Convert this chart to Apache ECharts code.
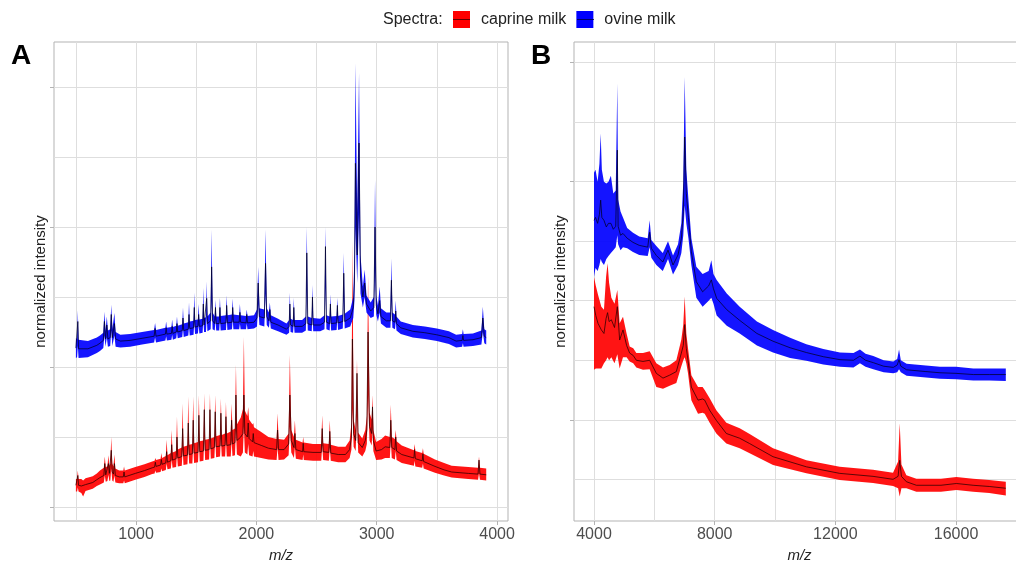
<!DOCTYPE html>
<html>
<head>
<meta charset="utf-8">
<script src="https://cdn.jsdelivr.net/npm/echarts@6/dist/echarts.min.js"></script>
<style>
html,body{margin:0;padding:0;background:#fff;}
#chart{width:1016px;height:561px;}
</style>
</head>
<body>
<div id="chart"></div>
<script>
// ---- Data: rows are [m/z, mean, lower, upper] (normalized intensity, offset per spectrum) ----
const seriesNames = ['caprine milk', 'ovine milk'];

// Panel A tick values
const gridXA = [500, 1000, 1500, 2000, 2500, 3000, 3500, 4000];
const labelXA = [1000, 2000, 3000, 4000];
const gridYA = [0, 1, 2, 3, 4, 5, 6];
const tickYA = [0, 2, 4, 6];
// Panel B tick values
const gridXB = [4000, 6000, 8000, 10000, 12000, 14000, 16000, 18000];
const labelXB = [4000, 8000, 12000, 16000];
const gridYB = [0, 1, 2, 3, 4, 5, 6, 7];
const tickYB = [1, 3, 5, 7];

const ovineA = [
[500,2.27,2.13,2.41],[510,2.27,2.14,2.40],[516,2.65,2.30,2.81],[522,2.26,2.13,2.39],
[600,2.26,2.14,2.37],[674,2.31,2.20,2.42],[700,2.34,2.23,2.45],[728,2.38,2.27,2.49],
[737,2.65,2.45,2.79],[746,2.40,2.29,2.51],[757,2.60,2.42,2.72],[766,2.40,2.29,2.52],
[785,2.42,2.30,2.54],[794,2.75,2.52,2.89],[803,2.42,2.30,2.54],[820,2.62,2.45,2.77],
[830,2.40,2.29,2.50],[870,2.37,2.28,2.46],[950,2.38,2.29,2.47],[1050,2.41,2.32,2.50],
[1150,2.44,2.35,2.53],[1158,2.55,2.42,2.63],[1166,2.44,2.35,2.53],[1244,2.47,2.38,2.56],
[1250,2.56,2.44,2.65],[1256,2.47,2.38,2.56],[1294,2.48,2.39,2.57],[1300,2.58,2.46,2.68],
[1306,2.48,2.39,2.57],[1334,2.50,2.41,2.59],[1340,2.62,2.50,2.72],[1346,2.50,2.41,2.59],
[1384,2.52,2.43,2.61],[1390,2.70,2.55,2.85],[1396,2.52,2.43,2.62],[1434,2.54,2.45,2.64],
[1440,2.75,2.58,2.92],[1446,2.55,2.45,2.65],[1478,2.56,2.46,2.66],[1484,2.85,2.65,3.06],
[1490,2.57,2.47,2.67],[1514,2.58,2.48,2.68],[1520,2.75,2.60,2.90],[1526,2.58,2.48,2.68],
[1553,2.59,2.49,2.69],[1559,2.90,2.68,3.13],[1565,2.60,2.50,2.70],[1581,2.60,2.50,2.71],
[1587,2.98,2.72,3.22],[1593,2.62,2.51,2.72],[1620,2.66,2.54,2.78],[1628,3.43,2.95,3.96],
[1636,2.66,2.54,2.78],[1654,2.62,2.52,2.72],[1660,2.85,2.68,2.96],[1666,2.62,2.52,2.72],
[1691,2.62,2.52,2.72],[1697,2.85,2.68,2.99],[1703,2.62,2.52,2.73],[1747,2.63,2.53,2.74],
[1753,2.88,2.70,3.02],[1759,2.63,2.53,2.74],[1797,2.64,2.54,2.75],[1803,2.85,2.68,2.98],
[1809,2.64,2.54,2.75],[1857,2.64,2.54,2.74],[1863,2.78,2.62,2.90],[1869,2.64,2.54,2.74],
[1914,2.63,2.54,2.73],[1920,2.75,2.62,2.82],[1926,2.63,2.54,2.73],[1980,2.64,2.55,2.74],
[2005,2.70,2.58,2.82],[2015,3.20,2.90,3.43],[2025,2.72,2.60,2.84],[2066,2.70,2.58,2.82],
[2076,3.48,3.05,3.96],[2086,2.72,2.60,2.84],[2104,2.66,2.56,2.78],[2112,2.82,2.68,2.92],
[2120,2.64,2.55,2.74],[2180,2.60,2.51,2.69],[2250,2.54,2.46,2.62],[2272,2.58,2.49,2.67],
[2278,2.90,2.70,3.06],[2284,2.60,2.50,2.69],[2305,2.58,2.49,2.67],[2311,2.85,2.66,2.99],
[2317,2.58,2.49,2.67],[2380,2.58,2.49,2.67],[2411,2.62,2.52,2.72],[2419,3.63,3.10,4.00],
[2427,2.62,2.52,2.72],[2460,2.60,2.51,2.70],[2466,3.00,2.78,3.17],[2472,2.60,2.51,2.70],
[2530,2.60,2.51,2.69],[2566,2.64,2.54,2.74],[2574,3.72,3.15,4.00],[2582,2.64,2.54,2.74],
[2609,2.62,2.52,2.72],[2615,2.90,2.72,3.04],[2621,2.62,2.52,2.72],[2667,2.63,2.53,2.73],
[2673,2.88,2.70,2.99],[2679,2.63,2.53,2.73],[2718,2.65,2.55,2.75],[2726,3.34,3.00,3.63],
[2734,2.65,2.55,2.76],[2780,2.70,2.58,2.82],[2805,2.85,2.70,3.00],[2815,3.20,2.95,3.60],
[2823,4.91,4.00,6.34],[2838,3.60,3.20,4.20],[2853,5.20,4.20,6.20],[2865,3.30,3.05,3.60],
[2885,3.00,2.85,3.15],[2900,3.20,3.00,3.39],[2915,2.90,2.78,3.02],[2950,2.80,2.70,2.92],
[2976,2.85,2.72,3.00],[2986,4.00,3.40,4.67],[2996,2.88,2.75,3.02],[3010,2.76,2.65,2.88],
[3025,2.95,2.78,3.15],[3035,2.72,2.62,2.84],[3080,2.66,2.56,2.78],[3114,2.66,2.56,2.78],
[3122,3.24,2.95,3.55],[3130,2.66,2.56,2.78],[3152,2.64,2.54,2.75],[3158,2.80,2.66,2.95],
[3164,2.62,2.52,2.72],[3200,2.56,2.47,2.65],[3300,2.51,2.42,2.60],[3400,2.49,2.40,2.58],
[3500,2.46,2.37,2.55],[3600,2.42,2.33,2.51],[3660,2.37,2.28,2.46],[3710,2.38,2.29,2.47],
[3716,2.45,2.34,2.54],[3722,2.38,2.29,2.47],[3800,2.39,2.30,2.48],[3870,2.42,2.32,2.52],
[3882,2.70,2.50,2.86],[3894,2.44,2.34,2.54],[3910,2.42,2.32,2.52]
];

const caprineA = [
[500,0.31,0.22,0.40],[510,0.31,0.22,0.40],[516,0.45,0.28,0.52],[522,0.31,0.22,0.40],
[545,0.30,0.20,0.40],[560,0.30,0.15,0.38],[580,0.32,0.23,0.41],[640,0.35,0.26,0.44],
[674,0.39,0.30,0.48],[700,0.42,0.32,0.52],[732,0.45,0.35,0.56],[740,0.62,0.45,0.72],
[748,0.46,0.36,0.57],[762,0.47,0.37,0.58],[770,0.62,0.46,0.74],[778,0.48,0.37,0.59],
[786,0.50,0.38,0.62],[794,0.81,0.55,1.00],[802,0.50,0.38,0.62],[812,0.47,0.36,0.58],
[820,0.62,0.45,0.75],[828,0.45,0.35,0.55],[860,0.43,0.34,0.52],[894,0.43,0.34,0.52],
[900,0.50,0.38,0.58],[906,0.43,0.34,0.52],[994,0.48,0.39,0.57],[1070,0.52,0.43,0.61],
[1134,0.56,0.47,0.65],[1154,0.57,0.48,0.66],[1160,0.64,0.52,0.70],[1166,0.58,0.49,0.67],
[1204,0.60,0.50,0.69],[1210,0.68,0.55,0.77],[1216,0.61,0.51,0.70],[1247,0.63,0.53,0.73],
[1254,0.79,0.62,0.96],[1261,0.64,0.54,0.74],[1289,0.66,0.55,0.77],[1296,0.89,0.68,1.10],
[1303,0.67,0.56,0.78],[1333,0.69,0.57,0.80],[1340,1.00,0.75,1.29],[1347,0.70,0.58,0.82],
[1380,0.72,0.59,0.85],[1387,1.12,0.82,1.48],[1394,0.73,0.60,0.86],[1427,0.74,0.61,0.88],
[1434,1.20,0.88,1.58],[1441,0.75,0.62,0.89],[1468,0.76,0.62,0.90],[1475,1.24,0.90,1.58],
[1482,0.77,0.63,0.91],[1515,0.78,0.64,0.93],[1522,1.31,0.95,1.60],[1529,0.79,0.65,0.94],
[1560,0.80,0.66,0.95],[1567,1.39,1.00,1.62],[1574,0.81,0.67,0.96],[1607,0.82,0.68,0.97],
[1614,1.39,1.00,1.62],[1621,0.83,0.69,0.98],[1651,0.85,0.70,1.00],[1658,1.36,1.00,1.60],
[1665,0.86,0.71,1.01],[1698,0.87,0.72,1.03],[1705,1.34,0.98,1.55],[1712,0.87,0.72,1.03],
[1740,0.88,0.72,1.05],[1747,1.29,0.96,1.50],[1754,0.88,0.72,1.05],[1787,0.89,0.72,1.08],
[1794,1.24,0.95,1.48],[1801,0.90,0.73,1.10],[1822,0.92,0.74,1.12],[1830,1.60,1.10,2.03],
[1838,0.95,0.75,1.18],[1870,1.00,0.72,1.28],[1888,1.05,0.78,1.40],[1896,1.60,1.15,2.43],
[1904,1.05,0.78,1.38],[1925,1.00,0.75,1.30],[1932,1.20,0.90,1.43],[1939,0.98,0.74,1.25],
[1968,0.93,0.72,1.18],[1974,1.05,0.80,1.20],[1980,0.92,0.72,1.14],[2040,0.88,0.70,1.07],
[2100,0.84,0.68,1.00],[2168,0.82,0.67,0.97],[2176,1.10,0.85,1.34],[2184,0.82,0.67,0.97],
[2230,0.82,0.68,0.96],[2268,0.90,0.74,1.05],[2278,1.60,1.15,2.17],[2290,0.95,0.78,1.10],
[2312,0.85,0.70,1.00],[2320,1.05,0.85,1.24],[2328,0.82,0.69,0.96],[2384,0.79,0.67,0.92],
[2389,0.91,0.75,1.00],[2394,0.79,0.67,0.92],[2470,0.78,0.66,0.90],[2539,0.78,0.66,0.90],
[2547,1.12,0.88,1.31],[2555,0.79,0.67,0.91],[2602,0.78,0.66,0.90],[2610,1.08,0.85,1.24],
[2618,0.77,0.66,0.89],[2680,0.75,0.64,0.86],[2740,0.75,0.64,0.86],[2775,0.82,0.70,0.95],
[2790,1.00,0.82,1.20],[2798,2.40,1.40,3.80],[2808,1.05,0.86,1.25],[2825,0.95,0.80,1.10],
[2836,1.91,1.30,2.10],[2846,0.92,0.78,1.06],[2880,0.85,0.72,0.98],[2905,0.95,0.80,1.10],
[2918,1.10,0.90,1.30],[2928,2.50,1.60,3.30],[2940,1.15,0.95,1.35],[2958,1.05,0.88,1.25],
[2965,1.43,1.10,1.60],[2972,0.95,0.80,1.10],[2995,0.80,0.67,0.93],[3040,0.82,0.68,0.97],
[3070,0.86,0.70,1.02],[3109,0.85,0.70,1.00],[3117,1.24,0.95,1.46],[3125,0.85,0.70,1.00],
[3151,0.82,0.68,0.97],[3158,1.00,0.80,1.10],[3165,0.80,0.67,0.94],[3208,0.75,0.63,0.88],
[3309,0.70,0.59,0.81],[3315,0.82,0.66,0.90],[3321,0.69,0.58,0.80],[3378,0.66,0.56,0.77],
[3384,0.76,0.62,0.84],[3390,0.65,0.55,0.76],[3484,0.58,0.49,0.68],[3560,0.53,0.45,0.63],
[3623,0.50,0.42,0.59],[3761,0.48,0.40,0.57],[3842,0.47,0.39,0.56],[3850,0.67,0.48,0.72],
[3858,0.47,0.39,0.56],[3910,0.46,0.38,0.55]
];

const ovineB = [
[4000,4.35,3.40,5.15],[4050,4.40,3.55,5.20],[4120,4.30,3.50,5.00],[4180,4.45,3.60,5.30],
[4221,4.69,3.70,5.81],[4260,4.40,3.65,5.20],[4330,4.35,3.60,5.00],[4409,4.24,3.70,4.97],
[4480,4.30,3.75,5.00],[4560,4.30,3.80,5.10],[4640,4.20,3.85,4.80],[4720,4.25,3.90,4.85],
[4773,5.53,4.10,6.65],[4800,4.25,3.95,4.70],[4880,4.10,3.85,4.50],[4961,4.13,3.90,4.40],
[5100,4.05,3.88,4.22],[5293,3.98,3.82,4.14],[5500,3.93,3.77,4.08],[5780,3.90,3.75,4.05],
[5845,4.15,3.90,4.35],[5900,3.88,3.72,4.02],[6066,3.76,3.60,3.92],[6280,3.65,3.50,3.80],
[6453,3.85,3.70,4.00],[6619,3.60,3.44,3.76],[6785,3.77,3.60,3.95],[6895,4.04,3.80,4.30],
[6960,4.50,4.10,5.00],[7006,5.75,4.60,6.76],[7060,4.80,4.30,5.20],[7130,4.40,4.05,4.70],
[7227,3.82,3.60,4.05],[7392,3.32,3.05,3.57],[7600,3.15,2.90,3.45],[7800,3.25,3.00,3.50],
[7889,3.35,3.05,3.68],[7960,3.20,2.95,3.45],[8066,3.04,2.75,3.35],[8400,2.85,2.58,3.12],
[8829,2.67,2.45,2.90],[9400,2.45,2.25,2.65],[9934,2.32,2.13,2.51],[10500,2.21,2.04,2.38],
[11039,2.13,1.99,2.27],[11600,2.06,1.93,2.19],[12153,2.01,1.89,2.13],[12600,2.00,1.88,2.12],
[12815,2.07,1.95,2.18],[13000,2.00,1.89,2.11],[13258,1.96,1.85,2.07],[13600,1.90,1.80,2.00],
[13920,1.88,1.78,1.98],[14050,1.92,1.80,2.02],[14111,2.01,1.85,2.18],[14170,1.90,1.80,2.00],
[14362,1.84,1.74,1.94],[15000,1.81,1.71,1.91],[15467,1.79,1.69,1.89],[16000,1.78,1.68,1.89],
[16572,1.76,1.66,1.86],[17100,1.76,1.66,1.86],[17650,1.76,1.65,1.86]
];

const caprineB = [
[4000,2.90,1.84,3.40],[4060,2.75,1.86,3.25],[4133,2.62,1.86,3.10],[4243,2.51,1.86,2.90],
[4330,2.45,1.95,2.85],[4400,2.70,2.00,3.40],[4450,2.80,2.05,3.63],[4500,2.65,2.00,3.30],
[4575,2.68,2.05,3.05],[4680,2.55,1.95,2.95],[4773,2.90,2.10,3.18],[4850,2.34,1.86,2.62],
[4961,2.51,2.05,2.73],[5080,2.25,2.05,2.45],[5182,2.12,1.98,2.23],[5300,2.08,1.95,2.20],
[5403,2.00,1.88,2.12],[5624,1.98,1.84,2.12],[5845,2.00,1.85,2.15],[6066,1.78,1.55,1.95],
[6287,1.70,1.52,1.88],[6508,1.75,1.57,1.92],[6729,1.81,1.62,2.00],[6895,2.12,1.90,2.35],
[6960,2.25,2.00,2.60],[7006,2.60,2.05,3.07],[7060,2.20,1.95,2.45],[7116,2.00,1.78,2.20],
[7227,1.55,1.33,1.75],[7448,1.33,1.10,1.55],[7600,1.35,1.12,1.55],[7669,1.33,1.10,1.50],
[7834,1.16,0.95,1.36],[8055,0.99,0.77,1.16],[8387,0.77,0.60,0.95],[8829,0.69,0.52,0.86],
[9160,0.60,0.44,0.76],[9934,0.38,0.24,0.52],[11039,0.21,0.10,0.32],[12144,0.10,-0.01,0.21],
[13249,0.05,-0.06,0.16],[13912,0.00,-0.11,0.11],[14080,0.05,-0.15,0.30],[14133,0.32,-0.29,0.94],
[14190,0.05,-0.15,0.25],[14354,-0.04,-0.15,0.07],[14686,-0.10,-0.21,0.01],[15500,-0.10,-0.21,0.01],
[16012,-0.07,-0.18,0.04],[16565,-0.10,-0.21,0.01],[17100,-0.12,-0.23,-0.01],[17650,-0.15,-0.27,-0.04]
];

const colors = { 'caprine milk': '#ff0000', 'ovine milk': '#0000ff' };
const FONT = "'Liberation Sans', Arial, Helvetica, sans-serif";
const GRID_COLOR = '#dedede';
const BORDER_COLOR = '#b3b3b3';

function bandSeries(name, rows, xi, yi) {
  return {
    type: 'custom', name: name, xAxisIndex: xi, yAxisIndex: yi,
    data: rows, encode: { x: 0, y: [2, 3] }, clip: true, z: 2, silent: true,
    itemStyle: { color: colors[name] },
    renderItem: function (params, api) {
      if (params.dataIndex !== 0) return null;
      const pts = [];
      for (let i = 0; i < rows.length; i++) pts.push(api.coord([rows[i][0], rows[i][3]]));
      for (let i = rows.length - 1; i >= 0; i--) pts.push(api.coord([rows[i][0], rows[i][2]]));
      return { type: 'polygon', shape: { points: pts }, style: { fill: colors[name], opacity: 0.92 } };
    }
  };
}
function meanSeries(name, rows, xi, yi, color) {
  return {
    type: 'line', name: name + ' mean', xAxisIndex: xi, yAxisIndex: yi,
    data: rows.map(function (r) { return [r[0], r[1]]; }),
    symbol: 'none', z: 3, silent: true, clip: true,
    lineStyle: { color: color, width: 1 }
  };
}

function gridAxisX(gi, min, max, vals) {
  return { type: 'value', gridIndex: gi, position: 'bottom', min: min, max: max,
    axisLine: { show: false, onZero: false }, axisTick: { show: false, customValues: vals },
    axisLabel: { show: false }, splitLine: { show: true, lineStyle: { color: GRID_COLOR, width: 1 } } };
}
function labelAxisX(gi, min, max, vals) {
  return { type: 'value', gridIndex: gi, position: 'bottom', min: min, max: max,
    name: 'm/z', nameLocation: 'middle', nameGap: 20,
    nameTextStyle: { fontFamily: FONT, fontSize: 15, fontStyle: 'italic', color: '#222' },
    axisLine: { show: false, onZero: false },
    axisTick: { show: true, customValues: vals, length: 4, lineStyle: { color: BORDER_COLOR } },
    axisLabel: { show: true, customValues: vals, fontFamily: FONT, fontSize: 16, color: '#4d4d4d', margin: 6,
      formatter: function (v) { return String(v); } },
    splitLine: { show: false } };
}
function gridAxisY(gi, min, max, vals) {
  return { type: 'value', gridIndex: gi, position: 'left', min: min, max: max,
    axisLine: { show: false, onZero: false }, axisTick: { show: false, customValues: vals },
    axisLabel: { show: false }, splitLine: { show: true, lineStyle: { color: GRID_COLOR, width: 1 } } };
}
function tickAxisY(gi, min, max, vals) {
  return { type: 'value', gridIndex: gi, position: 'left', min: min, max: max,
    name: 'normalized intensity', nameLocation: 'middle', nameGap: 6,
    nameTextStyle: { fontFamily: FONT, fontSize: 15, color: '#222' },
    axisLine: { show: false, onZero: false },
    axisTick: { show: true, customValues: vals, length: 4, lineStyle: { color: BORDER_COLOR } },
    axisLabel: { show: false }, splitLine: { show: false } };
}

const chart = echarts.init(document.getElementById('chart'), null, { renderer: 'canvas' });
chart.setOption({
  animation: false,
  backgroundColor: '#ffffff',
  textStyle: { fontFamily: FONT },
  legend: {
    data: seriesNames, left: 453, top: 11, padding: 0, itemWidth: 17, itemHeight: 17, itemGap: 10,
    icon: 'rect', selectedMode: false,
    textStyle: { fontFamily: FONT, fontSize: 16, color: '#222', padding: [0, 0, 0, 6] }
  },
  graphic: [
    { type: 'text', left: 383, top: 12, style: { text: 'Spectra:', fontFamily: FONT, fontSize: 16, fill: '#222' } },
    { type: 'line', shape: { x1: 453, y1: 19.5, x2: 470, y2: 19.5 }, style: { stroke: 'rgba(60,0,0,0.8)', lineWidth: 1 }, z: 100 },
    { type: 'line', shape: { x1: 577, y1: 19.5, x2: 594, y2: 19.5 }, style: { stroke: 'rgba(0,0,60,0.8)', lineWidth: 1 }, z: 100 },
    { type: 'text', left: 11, top: 42, style: { text: 'A', fontFamily: FONT, fontSize: 28, fontWeight: 'bold', fill: '#000' } },
    { type: 'text', left: 531, top: 42, style: { text: 'B', fontFamily: FONT, fontSize: 28, fontWeight: 'bold', fill: '#000' } }
  ],
  grid: [
    { left: 54, top: 42, width: 454, height: 479, outerBoundsMode: 'none', containLabel: false,
      show: true, borderColor: BORDER_COLOR, borderWidth: 1, backgroundColor: 'transparent' },
    { left: 574, top: 42, width: 451, height: 479, outerBoundsMode: 'none', containLabel: false,
      show: true, borderColor: BORDER_COLOR, borderWidth: 1, backgroundColor: 'transparent' }
  ],
  xAxis: [
    gridAxisX(0, 318, 4091, gridXA),
    labelAxisX(0, 318, 4091, labelXA),
    gridAxisX(1, 3337, 18286, gridXB),
    labelAxisX(1, 3337, 18286, labelXB)
  ],
  yAxis: [
    gridAxisY(0, -0.2, 6.643, gridYA),
    tickAxisY(0, -0.2, 6.643, tickYA),
    gridAxisY(1, -0.70, 7.346, gridYB),
    tickAxisY(1, -0.70, 7.346, tickYB)
  ],
  series: [
    bandSeries('caprine milk', caprineA, 1, 1),
    bandSeries('ovine milk', ovineA, 1, 1),
    meanSeries('caprine milk', caprineA, 1, 1, 'rgba(40,0,0,0.75)'),
    meanSeries('ovine milk', ovineA, 1, 1, 'rgba(0,0,40,0.75)'),
    bandSeries('caprine milk', caprineB, 3, 3),
    bandSeries('ovine milk', ovineB, 3, 3),
    meanSeries('caprine milk', caprineB, 3, 3, 'rgba(40,0,0,0.75)'),
    meanSeries('ovine milk', ovineB, 3, 3, 'rgba(0,0,40,0.75)')
  ]
});
</script>
</body>
</html>
